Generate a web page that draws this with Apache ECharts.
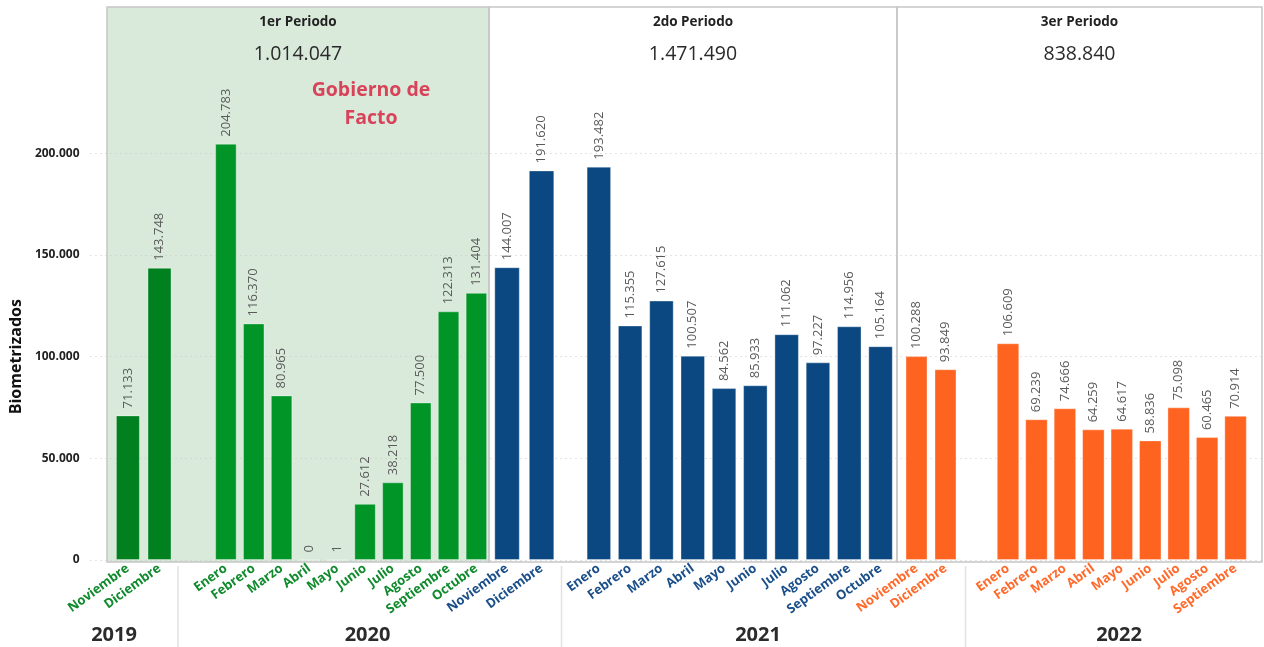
<!DOCTYPE html>
<html>
<head>
<meta charset="utf-8">
<script src="https://cdn.jsdelivr.net/npm/echarts@6/dist/echarts.min.js"></script>
<style>
html,body{margin:0;padding:0;background:#fff;}
#chart{width:1264px;height:647px;}
</style>
</head>
<body>
<div id="chart"></div>
<script>
// ---- DATA ----
const months2019P1 = ['Noviembre', 'Diciembre'];
const values2019P1 = [71133, 143748];
const months2020P1 = ['Enero', 'Febrero', 'Marzo', 'Abril', 'Mayo', 'Junio', 'Julio', 'Agosto', 'Septiembre', 'Octubre'];
const values2020P1 = [204783, 116370, 80965, 0, 1, 27612, 38218, 77500, 122313, 131404];
const months2020P2 = ['Noviembre', 'Diciembre'];
const values2020P2 = [144007, 191620];
const months2021P2 = ['Enero', 'Febrero', 'Marzo', 'Abril', 'Mayo', 'Junio', 'Julio', 'Agosto', 'Septiembre', 'Octubre'];
const values2021P2 = [193482, 115355, 127615, 100507, 84562, 85933, 111062, 97227, 114956, 105164];
const months2021P3 = ['Noviembre', 'Diciembre'];
const values2021P3 = [100288, 93849];
const months2022P3 = ['Enero', 'Febrero', 'Marzo', 'Abril', 'Mayo', 'Junio', 'Julio', 'Agosto', 'Septiembre'];
const values2022P3 = [106609, 69239, 74666, 64259, 64617, 58836, 75098, 60465, 70914];
const periodNames = ['1er Periodo', '2do Periodo', '3er Periodo'];
const yearNames = ['2019', '2020', '2021', '2022'];
const yTicks = [0, 50000, 100000, 150000, 200000];
const annotation = ['Gobierno de', 'Facto'];
const yAxisTitle = 'Biometrizados';

// ---- LAYOUT / STYLE ----
const FONT = 'Open Sans';
const fmt = v => String(v).replace(/\B(?=(\d{3})+(?!\d))/g, '.');
const PLOT_TOP = 153.4, PLOT_H = 406.6; // y=0 at 560, 200.000 at 153.4
const green = '#009526', green19 = '#00801f', blue = '#0b4881', orange = '#ff6320';
const lblGreen = '#0f8a2c', lblBlue = '#1b4f8a', lblOrange = '#ff6a2a';

const segments = [
  {cats: months2019P1, vals: values2019P1, left: 112.1, width: 63.2, bw: 24, color: green19, lc: lblGreen},
  {cats: months2020P1, vals: values2020P1, left: 212, width: 278.3, bw: 21.5, color: green, lc: lblGreen},
  {cats: months2020P2, vals: values2020P2, left: 489.8, width: 69, bw: 25.5, color: blue, lc: lblBlue},
  {cats: months2021P2, vals: values2021P2, left: 583.2, width: 313, bw: 24.5, color: blue, lc: lblBlue},
  {cats: months2021P3, vals: values2021P3, left: 902, width: 58, bw: 22, color: orange, lc: lblOrange},
  {cats: months2022P3, vals: values2022P3, left: 993.8, width: 256, bw: 22.5, color: orange, lc: lblOrange}
];
const panels = [
  {left: 107, width: 382, bg: '#d9eadb'},
  {left: 489, width: 408, bg: 'rgba(255,255,255,0)'},
  {left: 897, width: 365, bg: 'rgba(255,255,255,0)'}
];
const periodTotals = [
  values2019P1.concat(values2020P1),
  values2020P2.concat(values2021P2),
  values2021P3.concat(values2022P3)
].map(a => a.reduce((s, v) => s + v, 0));

const grid = [], xAxis = [], yAxis = [], series = [];
// panel grids
panels.forEach(p => {
  const i = grid.length;
  grid.push({left: p.left, width: p.width, top: 7, height: 555, show: true,
    backgroundColor: p.bg, borderColor: '#c6c6c6', borderWidth: 1.5, containLabel: false});
  xAxis.push({gridIndex: i, type: 'value', show: false, min: 0, max: 1});
  yAxis.push({gridIndex: i, type: 'value', show: false, min: 0, max: 1});
});
// value-label grid (y axis ticks + gridlines)
{
  const i = grid.length;
  grid.push({left: 87, right: 2, top: PLOT_TOP, height: PLOT_H});
  xAxis.push({gridIndex: i, type: 'value', show: false, min: 0, max: 1});
  yAxis.push({gridIndex: i, type: 'value', min: yTicks[0], max: yTicks[yTicks.length - 1],
    interval: yTicks[1] - yTicks[0],
    name: yAxisTitle, nameLocation: 'middle', nameGap: 60,
    nameTextStyle: {fontFamily: FONT, fontWeight: 'bold', fontSize: 16, color: '#111'},
    axisLine: {show: false}, axisTick: {show: false},
    axisLabel: {formatter: v => fmt(v), fontFamily: FONT, fontWeight: 'bold', fontSize: 12, color: '#222', margin: 11},
    splitLine: {show: true, lineStyle: {color: '#c9c9c9', type: [1, 4], width: 1}}
  });
}
// bar grids
segments.forEach(s => {
  const i = grid.length;
  grid.push({left: s.left, width: s.width, top: PLOT_TOP, height: PLOT_H});
  xAxis.push({gridIndex: i, type: 'category', data: s.cats,
    axisLine: {show: false}, axisTick: {show: false},
    axisLabel: {interval: 0, rotate: 36, margin: 7, fontFamily: FONT, fontWeight: 'bold', fontSize: 13, color: s.lc}
  });
  yAxis.push({gridIndex: i, type: 'value', min: 0, max: 200000, show: false, splitLine: {show: false}});
  series.push({type: 'bar', xAxisIndex: i, yAxisIndex: i, data: s.vals, barWidth: s.bw, clip: false,
    itemStyle: {color: s.color, borderColor: 'rgba(255,255,255,0.35)', borderWidth: 1},
    label: {show: true, position: 'top', rotate: 90, align: 'left', verticalAlign: 'middle', distance: 7,
      formatter: p => fmt(p.value), fontFamily: FONT, fontSize: 13, color: '#5a5a5a'},
    z: 3
  });
});

const graphic = [];
const panelCenters = panels.map(p => p.left + p.width / 2);
periodNames.forEach((n, k) => {
  graphic.push({type: 'text', x: panelCenters[k], y: 22.5, z: 20,
    style: {text: n, fontFamily: FONT, fontWeight: 'bold', fontSize: 13.5, fill: '#222', align: 'center', verticalAlign: 'middle'}});
  graphic.push({type: 'text', x: panelCenters[k], y: 54, z: 20,
    style: {text: fmt(periodTotals[k]), fontFamily: FONT, fontSize: 19.5, fill: '#2a2a2a', align: 'center', verticalAlign: 'middle'}});
});
annotation.forEach((t, k) => {
  graphic.push({type: 'text', x: 371, y: 90.5 + k * 27.7, z: 20,
    style: {text: t, fontFamily: FONT, fontWeight: 'bold', fontSize: 19.5, fill: '#d9435a', align: 'center', verticalAlign: 'middle'}});
});
const yearX = [114, 367.5, 758, 1119];
yearNames.forEach((t, k) => {
  graphic.push({type: 'text', x: yearX[k], y: 635, z: 20,
    style: {text: t, fontFamily: FONT, fontWeight: 'bold', fontSize: 20, fill: '#2b2b2b', align: 'center', verticalAlign: 'middle'}});
});
[178, 561.5, 965.5].forEach(x => {
  graphic.push({type: 'line', z: 1, shape: {x1: x, y1: 566, x2: x, y2: 647}, style: {stroke: '#e2e2e2', lineWidth: 1.5}});
});

const chart = echarts.init(document.getElementById('chart'), null, {renderer: 'canvas'});
chart.setOption({
  animation: false,
  backgroundColor: '#ffffff',
  grid, xAxis, yAxis, series, graphic
});
</script>
</body>
</html>
